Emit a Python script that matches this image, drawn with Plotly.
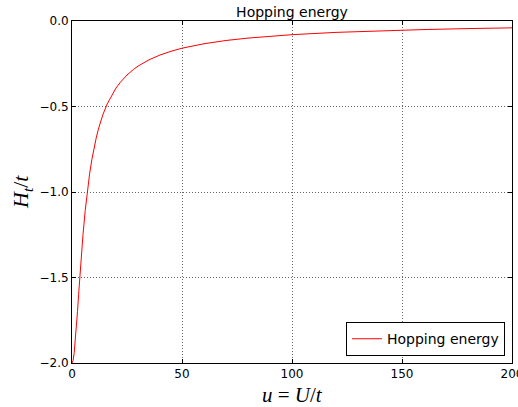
import plotly.graph_objects as go

u_values = [0, 0.5, 1, 1.5, 2, 2.5, 3, 3.5, 4, 5, 6, 7, 8, 9, 10, 11, 12, 13, 14, 16, 18, 20,
            22, 25, 28, 30, 35, 40, 45, 50, 60, 70, 80, 90, 100, 120, 140, 160, 180, 200]
hopping_energy = [-2.0, -1.985, -1.94, -1.873, -1.789, -1.698, -1.6, -1.505, -1.414, -1.249,
                  -1.109, -0.992, -0.894, -0.812, -0.743, -0.684, -0.632, -0.588, -0.549,
                  -0.485, -0.434, -0.392, -0.358, -0.316, -0.283, -0.264, -0.227, -0.199,
                  -0.177, -0.159, -0.133, -0.114, -0.0999, -0.0889, -0.080, -0.0666,
                  -0.0571, -0.050, -0.0444, -0.040]
x_ticks = [0, 50, 100, 150, 200]
y_ticks = [0.0, -0.5, -1.0, -1.5, -2.0]

fig = go.Figure()
fig.add_trace(go.Scatter(x=u_values, y=hopping_energy, mode="lines", name="Hopping energy",
                         line=dict(color="red", width=1)))

axis_common = dict(showline=True, linecolor="black", linewidth=1, mirror="ticks",
                   ticks="inside", ticklen=4, tickcolor="black",
                   showgrid=True, gridcolor="#666666", griddash="1px,2px", gridwidth=0.6,
                   zeroline=False, automargin=False,
                   tickfont=dict(family="DejaVu Sans", size=12, color="black"))

fig.update_xaxes(range=[0, 200], tickvals=x_ticks, ticktext=[str(v) for v in x_ticks],
                 ticklabeloverflow="allow", **axis_common)
fig.update_yaxes(range=[-2.0, 0.0], tickvals=y_ticks, tickformat=".1f", **axis_common)

fig.update_layout(
    width=518, height=407,
    margin=dict(l=72, r=6, t=21, b=44, autoexpand=False),
    paper_bgcolor="white", plot_bgcolor="white",
    title=dict(text="Hopping energy", x=0.5637, xanchor="center", y=0.97, yanchor="middle",
               font=dict(family="DejaVu Sans", size=14, color="black"), automargin=False),
    showlegend=True,
    legend=dict(x=0.984, y=0.02, xanchor="right", yanchor="bottom",
                bordercolor="black", borderwidth=1, bgcolor="white",
                font=dict(family="DejaVu Sans", size=14, color="black"),
                itemwidth=30),
    annotations=[
        dict(text="<i>u</i> = <i>U</i>/<i>t</i>", xref="paper", yref="paper",
             x=0.5, y=0, yshift=-32, xanchor="center", yanchor="middle", showarrow=False,
             font=dict(family="Liberation Serif", size=21, color="black")),
        dict(text="<i>H<sub>t</sub></i>/<i>t</i>", xref="paper", yref="paper",
             x=0, y=0.5, xshift=-50, xanchor="center", yanchor="middle", showarrow=False,
             textangle=-90, font=dict(family="Liberation Serif", size=22, color="black")),
    ],
)

fig.write_html("out.html", config={"displayModeBar": False},
               post_script="document.body.style.margin='0';document.body.style.overflow='hidden';")
